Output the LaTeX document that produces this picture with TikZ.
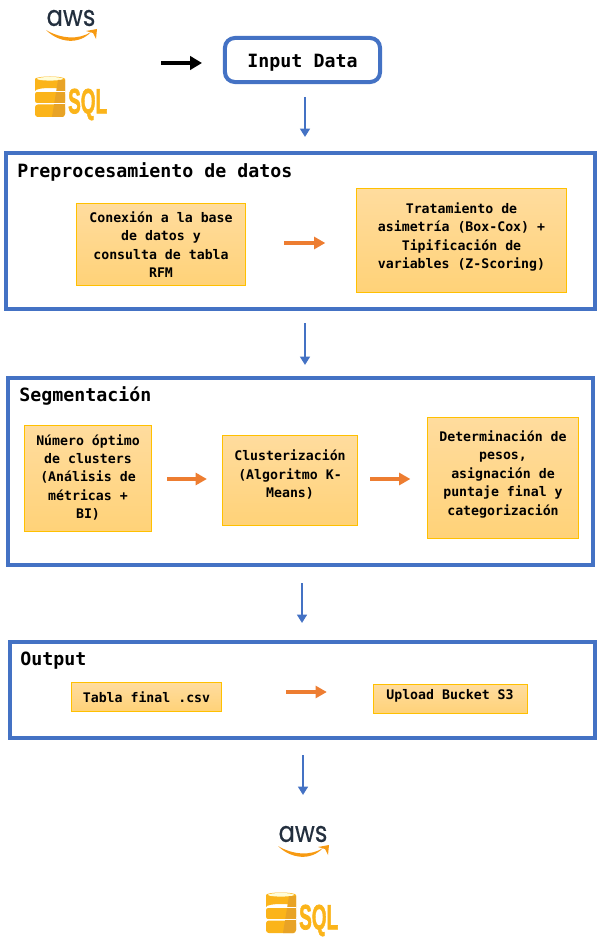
\documentclass[tikz,border=0pt]{standalone}
\usepackage{fontspec}
\setmonofont{DejaVu Sans Mono}
\newfontfamily\awsfont[FakeBold=0.4]{Poppins}
\newfontfamily\sqlfont[BoldFeatures={FakeBold=2}]{Liberation Sans}
\usetikzlibrary{arrows.meta}
\definecolor{frameblue}{HTML}{4472C4}
\definecolor{boxline}{HTML}{FFC000}
\definecolor{flecha}{HTML}{ED7D31}
\definecolor{awsdark}{HTML}{232F3E}
\definecolor{awsorange}{HTML}{F79A12}
\definecolor{sqlyellow}{HTML}{FBB41A}
\definecolor{sqldark}{HTML}{E8A326}
\definecolor{pasotop}{HTML}{FFDC9E}
\definecolor{pasobottom}{HTML}{FFD278}
\tikzset{
	frame/.style={draw=frameblue,line width=2.85pt},
	paso/.style={draw=boxline,line width=0.7pt,top color=pasotop,bottom color=pasobottom,align=center,font=\ttfamily\bfseries\fontsize{9.4}{13.1}\selectfont,inner sep=0pt},
	titulo/.style={anchor=west,inner sep=0pt,font=\ttfamily\bfseries\fontsize{13}{16}\selectfont},
	bluearrow/.style={-{Triangle[length=6pt,width=7pt]},draw=frameblue,line width=2pt},
	orangearrow/.style={-{Triangle[length=8pt,width=8.5pt]},draw=flecha,line width=2.8pt},
	blackarrow/.style={-{Triangle[length=8.5pt,width=9.5pt]},draw=black,line width=2.8pt},
	awslogo/.pic={
		\node[awsdark,inner sep=0pt,xscale=0.84,font=\awsfont\fontsize{20.5}{20}\selectfont] (-txt) at (0,-7) {aws};
		\fill[awsorange] (-25,5) .. controls (-10,14) and (8,15) .. (20,7) .. controls (8,20) and (-12,18) .. (-25,5) -- cycle;
		\fill[awsorange] (15,6) -- (26,4) -- (25,14) -- (22,8) -- cycle;
	},
	sqllogo/.pic={
		\fill[sqlyellow] (-15,-18) arc[start angle=180,end angle=360,x radius=15,y radius=2.5] -- (15,-6) arc[start angle=0,end angle=-180,x radius=15,y radius=3] -- cycle;
		\fill[sqlyellow] (-15,-18) arc[start angle=180,end angle=0,x radius=15,y radius=3] -- cycle;
		\fill[white!85!yellow] (0,-18.2) ellipse[x radius=13,y radius=1.8];
		\fill[sqlyellow,rounded corners=1.5pt] (-15,-5) rectangle (15,6);
		\fill[sqlyellow,rounded corners=2pt] (-15,7.5) rectangle (15,20);
		\fill[sqldark] (15,-17) -- (8,-17) -- (2,20) -- (13,20) -- (15,17) -- cycle;
		\fill[white] (-15,-5.6) rectangle (15,-4.6);
		\fill[white] (-15,6.3) rectangle (15,7.3);
		\node[sqlyellow,inner sep=0pt,xscale=0.54,anchor=west,font=\sqlfont\bfseries\fontsize{25}{25}\selectfont] (-txt) at (18,7.5) {SQL};
	}
}
\begin{document}
\begin{tikzpicture}[x=0.025cm,y=-0.025cm]
	\useasboundingbox (0,0) rectangle (602,945);
	
	% logos arriba
	\pic (awsA) at (71,25) {awslogo};
	\pic (sqlA) at (50,97) {sqllogo};
	
	\node[draw=frameblue,line width=2.85pt,rounded corners=7pt,minimum width=110.3pt,minimum height=31.3pt,inner sep=0pt,text height=12.7pt,font=\ttfamily\bfseries\fontsize{13}{16}\selectfont] (I) at(302.5,60) {Input Data};
	\coordinate (inA) at(161,63);
	\coordinate (inB) at(202,63);
	\draw[blackarrow] (inA)to(inB);
	
	% Preprocesamiento
	\node[frame,minimum width=419pt,minimum height=111pt,inner sep=0pt] (P) at(300.5,231) {};
	\node[titulo] (Pt) at(17,172) {Preprocesamiento de datos};
	\node[paso,minimum width=120.5pt,minimum height=58pt] (P1) at(161,244.5) {Conexión a la base\\de datos y\\consulta de tabla\\RFM};
	\node[paso,minimum width=150pt,minimum height=74.5pt] (P2) at(461.5,240.5) {Tratamiento de\\asimetría (Box-Cox) +\\Tipificación de\\variables (Z-Scoring)\\[-6pt]};
	
	% Segmentacion
	\node[frame,minimum width=416pt,minimum height=133pt,inner sep=0pt] (S) at(300.5,471.5) {};
	\node[titulo] (St) at(19,396) {Segmentación};
	\node[paso,minimum width=91pt,minimum height=76pt] (S1) at(88,478.5) {Número óptimo\\de clusters\\(Análisis de\\métricas +\\BI)\\[-10.3pt]};
	\node[paso,minimum width=96.5pt,minimum height=64pt] (S2) at(290,480) {Clusterización\\(Algoritmo K-\\Means)\\[-4.6pt]};
	\node[paso,minimum width=108pt,minimum height=86.5pt] (S3) at(503,478) {Determinación de\\pesos,\\asignación de\\puntaje final y\\categorización\\[-6pt]};
	
	% Output
	\node[frame,minimum width=416pt,minimum height=68.3pt,inner sep=0pt] (O) at(302.5,690) {};
	\node[titulo] (Ot) at(20,661) {Output};
	\node[paso,minimum width=107pt,minimum height=20pt] (O1) at(146.5,697) {Tabla final .csv};
	\node[paso,minimum width=109.5pt,minimum height=20pt,text depth=6.4pt] (O2) at(450,699) {Upload Bucket S3};
	
	% logos abajo
	\pic (awsB) at (303,841) {awslogo};
	\pic (sqlB) at (281,913) {sqllogo};
	
	% flechas
	\coordinate (a1) at(305,97);
	\coordinate (a2) at(305,137);
	\coordinate (b1) at(305,323);
	\coordinate (b2) at(305,365);
	\coordinate (c1) at(302,583);
	\coordinate (c2) at(302,623);
	\coordinate (d1) at(303,755);
	\coordinate (d2) at(303,795);
	\draw[bluearrow] (a1)to(a2);
	\draw[bluearrow] (b1)to(b2);
	\draw[bluearrow] (c1)to(c2);
	\draw[bluearrow] (d1)to(d2);
	
	\draw[orangearrow,shorten <=27pt,shorten >=21.5pt] (P1.east|-0,243)to(P2.west|-0,243);
	\draw[orangearrow,shorten <=10.5pt,shorten >=10.5pt] (S1.east|-0,479)to(S2.west|-0,479);
	\draw[orangearrow,shorten <=8.5pt,shorten >=11.5pt] (S2.east|-0,479)to(S3.west|-0,479);
	\draw[orangearrow,shorten <=45.5pt,shorten >=32.5pt] (O1.east|-0,692)to(O2.west|-0,692);
\end{tikzpicture}
\end{document}
